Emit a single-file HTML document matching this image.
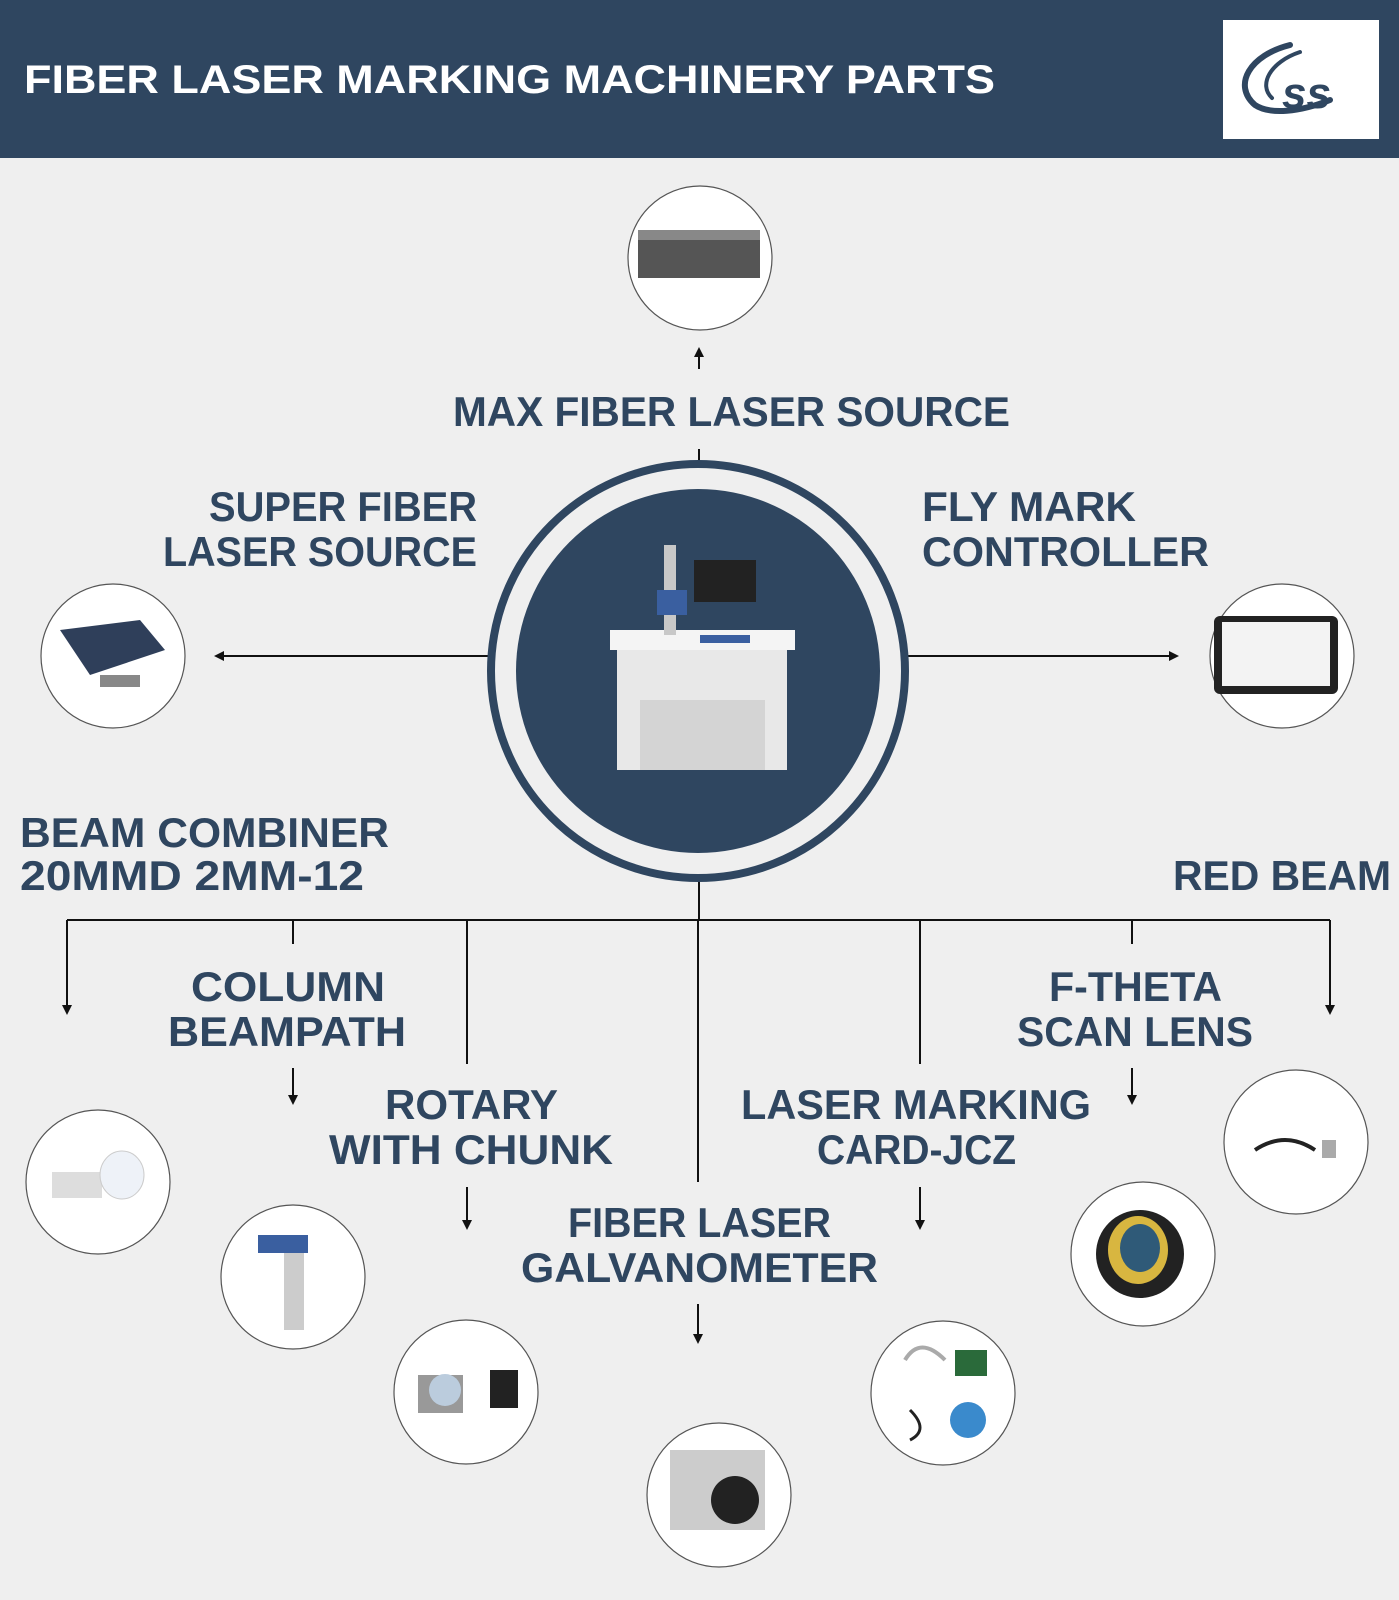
<!DOCTYPE html>
<html><head><meta charset="utf-8"><style>
html,body{margin:0;padding:0;background:#efefef}
svg{display:block}
text{font-family:"Liberation Sans",sans-serif;font-weight:bold;fill:#2f4660;font-size:42px}
</style></head><body>
<svg width="1399" height="1600" viewBox="0 0 1399 1600" xmlns="http://www.w3.org/2000/svg">
<defs>
<marker id="a" markerWidth="10" markerHeight="10" refX="5" refY="5" orient="auto" markerUnits="userSpaceOnUse"><path d="M0,0 L10,5 L0,10 z" fill="#111"/></marker>
</defs>
<rect width="1399" height="1600" fill="#efefef"/>
<rect width="1399" height="158" fill="#2f4660"/>
<text x="24" y="93" textLength="971" lengthAdjust="spacingAndGlyphs" style="fill:#fff;font-size:40px">FIBER LASER MARKING MACHINERY PARTS</text>
<rect x="1223" y="20" width="156" height="119" fill="#fff"/>
<g fill="none" stroke="#2f4660" stroke-linecap="round">
<path d="M1290,45 C1250,55 1232,85 1255,105 C1270,115 1300,112 1330,100" stroke-width="6"/>
<path d="M1300,52 C1270,62 1258,85 1272,98" stroke-width="4"/>
</g>
<text x="1282" y="108" style="fill:#2f4660;font-size:44px;font-style:italic">ss</text>

<g stroke="#111" stroke-width="2" fill="none">
<line x1="699" y1="369" x2="699" y2="352" marker-end="url(#a)"/>
<line x1="699" y1="449" x2="699" y2="463"/>
<line x1="488" y1="656" x2="219" y2="656" marker-end="url(#a)"/>
<line x1="908" y1="656" x2="1174" y2="656" marker-end="url(#a)"/>
<line x1="699" y1="880" x2="699" y2="920"/>
<line x1="67" y1="920" x2="1330" y2="920"/>
<line x1="67" y1="920" x2="67" y2="1010" marker-end="url(#a)"/>
<line x1="293" y1="920" x2="293" y2="944"/>
<line x1="467" y1="920" x2="467" y2="1064"/>
<line x1="698" y1="920" x2="698" y2="1182"/>
<line x1="920" y1="920" x2="920" y2="1064"/>
<line x1="1132" y1="920" x2="1132" y2="944"/>
<line x1="1330" y1="920" x2="1330" y2="1010" marker-end="url(#a)"/>
<line x1="293" y1="1068" x2="293" y2="1100" marker-end="url(#a)"/>
<line x1="467" y1="1187" x2="467" y2="1225" marker-end="url(#a)"/>
<line x1="698" y1="1304" x2="698" y2="1339" marker-end="url(#a)"/>
<line x1="920" y1="1187" x2="920" y2="1225" marker-end="url(#a)"/>
<line x1="1132" y1="1068" x2="1132" y2="1100" marker-end="url(#a)"/>
</g>

<circle cx="698" cy="671" r="207" fill="#efefef" stroke="#2f4660" stroke-width="8"/>
<circle cx="698" cy="671" r="182" fill="#2f4660"/>
<!-- machine -->
<rect x="617" y="645" width="170" height="125" fill="#e8e8e8"/>
<rect x="640" y="700" width="125" height="70" fill="#d4d4d4"/>
<rect x="610" y="630" width="185" height="20" fill="#f4f4f4"/>
<rect x="664" y="545" width="12" height="90" fill="#c8c8c8"/>
<rect x="694" y="560" width="62" height="42" fill="#222"/>
<rect x="657" y="590" width="30" height="25" fill="#3a5fa0"/>
<rect x="700" y="635" width="50" height="8" fill="#3a5fa0"/>

<g fill="#fff" stroke="#555" stroke-width="1.2">
<circle cx="700" cy="258" r="72"/>
<circle cx="113" cy="656" r="72"/>
<circle cx="1282" cy="656" r="72"/>
<circle cx="98" cy="1182" r="72"/>
<circle cx="293" cy="1277" r="72"/>
<circle cx="466" cy="1392" r="72"/>
<circle cx="719" cy="1495" r="72"/>
<circle cx="943" cy="1393" r="72"/>
<circle cx="1143" cy="1254" r="72"/>
<circle cx="1296" cy="1142" r="72"/>
</g>
<!-- icons -->
<rect x="638" y="238" width="122" height="40" fill="#555"/><rect x="638" y="230" width="122" height="10" fill="#888"/>
<path d="M60,630 L140,620 L165,650 L90,675 z" fill="#2f3f5a"/><rect x="100" y="675" width="40" height="12" fill="#888"/>
<rect x="1214" y="616" width="124" height="78" rx="6" fill="#222"/><rect x="1222" y="622" width="108" height="64" fill="#f3f3f3"/>
<rect x="52" y="1172" width="50" height="26" fill="#ddd"/><ellipse cx="122" cy="1175" rx="22" ry="24" fill="#eef2f8" stroke="#ccc"/>
<rect x="284" y="1235" width="20" height="95" fill="#ccc"/><rect x="258" y="1235" width="50" height="18" fill="#3a5fa0"/>
<rect x="418" y="1375" width="45" height="38" fill="#999"/><circle cx="445" cy="1390" r="16" fill="#bcd"/><rect x="490" y="1370" width="28" height="38" fill="#222"/>
<rect x="670" y="1450" width="95" height="80" fill="#ccc"/><circle cx="735" cy="1500" r="24" fill="#222"/>
<rect x="955" y="1350" width="32" height="26" fill="#2a6a3a"/><circle cx="968" cy="1420" r="18" fill="#3a8acc"/><path d="M905,1360 q15,-25 40,0" fill="none" stroke="#aaa" stroke-width="4"/><path d="M910,1410 q20,20 0,30" fill="none" stroke="#222" stroke-width="3"/>
<circle cx="1140" cy="1254" r="44" fill="#222"/><ellipse cx="1138" cy="1250" rx="30" ry="34" fill="#d8b640"/><ellipse cx="1140" cy="1248" rx="20" ry="24" fill="#2f5a78"/>
<path d="M1255,1150 q30,-20 60,0" fill="none" stroke="#222" stroke-width="4"/><rect x="1322" y="1140" width="14" height="18" fill="#aaa"/>

<text x="453" y="426" textLength="557" lengthAdjust="spacingAndGlyphs">MAX FIBER LASER SOURCE</text>
<text x="209" y="521" textLength="268" lengthAdjust="spacingAndGlyphs">SUPER FIBER</text>
<text x="163" y="566" textLength="314" lengthAdjust="spacingAndGlyphs">LASER SOURCE</text>
<text x="922" y="521" textLength="214" lengthAdjust="spacingAndGlyphs">FLY MARK</text>
<text x="922" y="566" textLength="287" lengthAdjust="spacingAndGlyphs">CONTROLLER</text>
<text x="20" y="847" textLength="369" lengthAdjust="spacingAndGlyphs">BEAM COMBINER</text>
<text x="20" y="890" textLength="344" lengthAdjust="spacingAndGlyphs">20MMD 2MM-12</text>
<text x="1173" y="890" textLength="218" lengthAdjust="spacingAndGlyphs">RED BEAM</text>
<text x="191" y="1001" textLength="194" lengthAdjust="spacingAndGlyphs">COLUMN</text>
<text x="168" y="1046" textLength="238" lengthAdjust="spacingAndGlyphs">BEAMPATH</text>
<text x="385" y="1119" textLength="173" lengthAdjust="spacingAndGlyphs">ROTARY</text>
<text x="329" y="1164" textLength="284" lengthAdjust="spacingAndGlyphs">WITH CHUNK</text>
<text x="568" y="1237" textLength="263" lengthAdjust="spacingAndGlyphs">FIBER LASER</text>
<text x="521" y="1282" textLength="357" lengthAdjust="spacingAndGlyphs">GALVANOMETER</text>
<text x="741" y="1119" textLength="350" lengthAdjust="spacingAndGlyphs">LASER MARKING</text>
<text x="817" y="1164" textLength="199" lengthAdjust="spacingAndGlyphs">CARD-JCZ</text>
<text x="1049" y="1001" textLength="173" lengthAdjust="spacingAndGlyphs">F-THETA</text>
<text x="1017" y="1046" textLength="236" lengthAdjust="spacingAndGlyphs">SCAN LENS</text>
</svg>
</body></html>
